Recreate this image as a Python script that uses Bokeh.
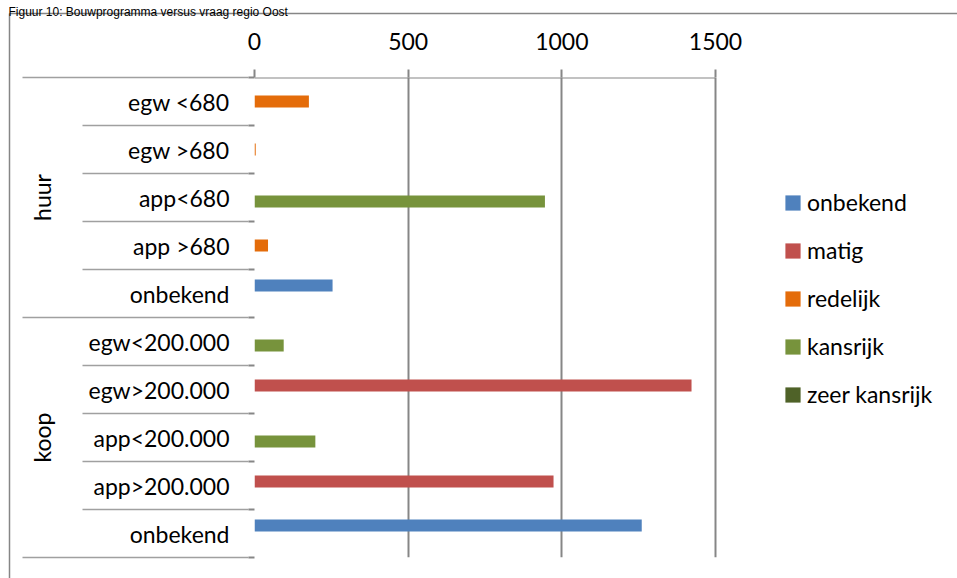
import numpy as np
from bokeh.plotting import figure
from bokeh.models import Range1d, LinearAxis, FixedTicker, Grid, Legend, LegendItem
from bokeh.core.properties import value
from bokeh.embed import file_html
from bokeh.resources import INLINE

# ---------------- data ----------------
title_text = "Figuur 10: Bouwprogramma versus vraag regio Oost"
categories = ["egw <680", "egw >680", "app<680", "app >680", "onbekend",
              "egw<200.000", "egw>200.000", "app<200.000", "app>200.000", "onbekend"]
groups = ["huur", "koop"]
group_sizes = [5, 5]
series_names = ["onbekend", "matig", "redelijk", "kansrijk", "zeer kansrijk"]
onbekend = [0, 0, 0, 0, 254, 0, 0, 0, 0, 1260]
matig = [0, 0, 0, 0, 0, 0, 1422, 0, 973, 0]
redelijk = [177, 4, 0, 44, 0, 0, 0, 0, 0, 0]
kansrijk = [0, 0, 945, 0, 0, 95, 0, 198, 0, 0]
zeer_kansrijk = [0, 0, 0, 0, 0, 0, 0, 0, 0, 0]
x_ticks = [0, 500, 1000, 1500]

# ---------------- style ----------------
colors = ["#4F81BD", "#C0504D", "#E46C0A", "#77933C", "#4F6228"]
FONT = "Lato"
FS = "23px"
GRID_C = "#868686"
SEP_C = "#A0A0A0"

W, H = 957, 578
FL, FR, FT, FB = 254, 715, 77, 557   # value axis 0 at FL, 1500 at FR; rows from FT to FB

n = len(categories)
# frame runs to the right edge so the legend lies inside it; value scale keeps 0..1500 on FL..FR
x_end = x_ticks[-1] * (W - FL) / (FR - FL)
p = figure(width=W, height=H, output_backend="svg", toolbar_location=None,
           x_range=Range1d(x_ticks[0], x_end),
           y_range=Range1d(n - 0.5, -0.5),
           x_axis_type=None, y_axis_type=None,
           min_border_left=FL, min_border_right=0,
           min_border_top=FT, min_border_bottom=H - FB,
           outline_line_color=None,
           background_fill_color="white", border_fill_color="white")
# pixel-space helper ranges for decorations (border, separators, labels)
p.extra_x_ranges = {"px": Range1d(FL, W)}
p.extra_y_ranges = {"py": Range1d(FB, FT)}

# vertical gridlines (incl. the category axis line at 0)
p.add_layout(Grid(dimension=0, ticker=FixedTicker(ticks=x_ticks),
                  grid_line_color=GRID_C, grid_line_width=2))

# top value axis
xaxis = LinearAxis(ticker=FixedTicker(ticks=x_ticks),
                   axis_line_color=None,
                   major_tick_line_color=GRID_C, major_tick_line_width=2,
                   major_tick_out=8, major_tick_in=0,
                   minor_tick_out=0, minor_tick_in=0,
                   major_label_standoff=20,
                   major_label_text_font=FONT, major_label_text_font_size=FS,
                   major_label_text_color="black")
p.add_layout(xaxis, "above")

# left category axis (labels only)
yaxis = LinearAxis(ticker=FixedTicker(ticks=list(range(n))),
                   major_label_overrides={i: c for i, c in enumerate(categories)},
                   axis_line_color=None, major_tick_line_color=None,
                   major_tick_out=0, major_tick_in=0,
                   minor_tick_out=0, minor_tick_in=0,
                   major_label_standoff=25,
                   major_label_text_font=FONT, major_label_text_font_size=FS,
                   major_label_text_color="black")
p.add_layout(yaxis, "left")

# bars: clustered, 5 series, overlapping slots
series_vals = [onbekend, matig, redelijk, kansrijk, zeer_kansrijk]
slot = 1.0 / 12.0
bar_h = 0.25
items = []
for i, (name, vals) in enumerate(zip(series_names, series_vals)):
    ys = np.arange(n) + (i - (len(series_names) - 1) / 2) * slot
    r = p.hbar(y=ys, left=0, right=vals, height=bar_h,
               fill_color=colors[i], line_color=None)
    items.append(LegendItem(label=name, renderers=[r]))

# value-axis line along the top of the rows
p.segment(x0=x_ticks[0], x1=x_ticks[-1], y0=-0.5, y1=-0.5,
          line_color=GRID_C, line_width=2)

# category separators and ticks
bounds = np.arange(n + 1) - 0.5
group_edges = set(np.cumsum([0] + group_sizes))
inner_b = [b for k, b in enumerate(bounds) if k not in group_edges]
outer_b = [b for k, b in enumerate(bounds) if k in group_edges]
r1 = p.segment(x0=82, x1=FL - 6, y0=inner_b, y1=inner_b, x_range_name="px",
               line_color=SEP_C, line_width=1.3)
r2 = p.segment(x0=22, x1=FL - 6, y0=outer_b, y1=outer_b, x_range_name="px",
               line_color=SEP_C, line_width=1.3)
r3 = p.segment(x0=FL - 6, x1=FL, y0=list(bounds), y1=list(bounds), x_range_name="px",
               line_color=GRID_C, line_width=2)

# group labels
starts = np.cumsum([0] + group_sizes[:-1])
gy = [s + (g - 1) / 2 for s, g in zip(starts, group_sizes)]
r5 = p.text(x=[41] * len(groups), y=gy, text=groups, angle=np.pi / 2,
            x_range_name="px", text_align="center", text_baseline="middle",
            text_font=value(FONT), text_font_size=FS, text_color="black")

# chart border + title
r6 = p.segment(x0=[9, 9], y0=[13, 13], x1=[W + 5, 9], y1=[13, H + 5],
               x_range_name="px", y_range_name="py",
               line_color=GRID_C, line_width=1.5)
r7 = p.text(x=[8], y=[11], text=[title_text], x_range_name="px", y_range_name="py",
            text_align="left", text_baseline="alphabetic",
            text_font=value("Liberation Sans"), text_font_size="12px", text_color="black")

for r in (r1, r2, r3, r5, r6, r7):
    r.level = "overlay"

# legend: items centred at ~201 px and 48.3 px apart, squares starting at x=785
item_h = 28.3
pitch = 48.3
leg_h = 5 * item_h + 4 * (pitch - item_h)
leg_top = 201 - item_h / 2
legend = Legend(items=items, location=(783 - FL, FB - (leg_top + leg_h)),
                glyph_width=19, glyph_height=19, label_standoff=5,
                label_text_font=FONT, label_text_font_size=FS, label_text_color="black",
                label_height=15, spacing=int(round(pitch - item_h)), padding=0, margin=0,
                border_line_color=None, background_fill_alpha=0)
p.add_layout(legend)

open("out.html", "w").write(file_html(p, INLINE))
